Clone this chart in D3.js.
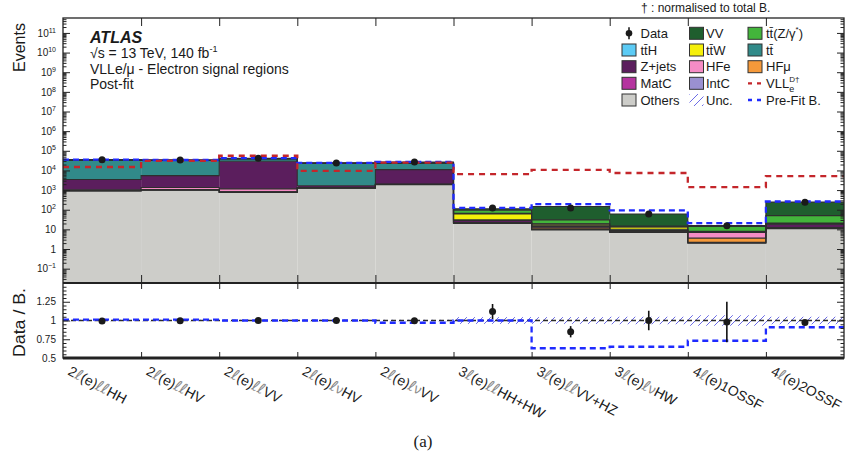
<!DOCTYPE html>
<html><head><meta charset="utf-8">
<script src="https://cdn.jsdelivr.net/npm/d3@7"></script>
<style>
body{margin:0;background:#fff}
text{font-family:"Liberation Sans",Arial,Helvetica,sans-serif;fill:#1a1a1a}
</style>
</head><body>
<svg id="c" width="845" height="463"></svg>
<script>
// ---------------- DATA ----------------
const categories = ["2ℓ(e)ℓℓHH","2ℓ(e)ℓℓHV","2ℓ(e)ℓℓVV","2ℓ(e)ℓνHV","2ℓ(e)ℓνVV",
  "3ℓ(e)ℓℓHH+HW","3ℓ(e)ℓℓVV+HZ","3ℓ(e)ℓνHW","4ℓ(e)1OSSF","4ℓ(e)2OSSF"];
const others = [900,1000,760,1260,1900,20,9.4,7,2,10.7];
const intC   = [20,20,20,20,20,0.5,0.5,0.3,0.1,0.3];
const matC   = [20,20,30,20,20,0.5,0.5,0.3,0.1,0.3];
const hfMu   = [10,10,10,10,10,0.5,1.5,0.5,1.4,0.5];
const hfE    = [80,300,330,40,60,1,1.5,0.5,3.4,0.5];
const zjets  = [2400,4100,28000,300,9000,6,1,0.5,0.3,6];
const ttbar  = [31000,27500,10000,21500,13000,2,1,1,0.2,0.7];
const ttW    = [60,50,40,100,100,30,3,3,0.2,1];
const ttH    = [40,30,20,50,50,5,1,0.5,0.3,1];
const ttZ    = [150,150,200,200,200,28,11,1,6,29];
const vv     = [300,400,2000,500,2000,17,115,46,1.5,195];
const data   = [35000,34000,41500,24000,26500,123,123,60,15.2,239];
const preFit = [35500,34000,42000,24500,27300,123,195,92,21,262];
const vll    = [15000,31000,56000,9600,25000,6500,10800,7400,1400,5100];
const dataRatio    = [0.995,0.998,1.0,1.0,0.998,1.12,0.85,1.0,0.98,0.975];
const dataRatioErr = [0.006,0.006,0.005,0.007,0.007,0.10,0.075,0.13,0.27,0.03];
const preFitRatio  = [1.013,1.013,1.0,1.0,0.97,1.0,0.63,0.65,0.73,0.91];
const uncRel       = [0.01,0.01,0.01,0.01,0.01,0.045,0.045,0.05,0.07,0.05];
const mainTicks  = [1e-1,1,10,1e2,1e3,1e4,1e5,1e6,1e7,1e8,1e9,1e10,1e11];
const ratioTicks = [0.5,0.75,1,1.25,1.5];

// ---------------- LAYOUT ----------------
const L=63, R=844, T=18, MB=283, RB=358;
const svg = d3.select("#c");
const x  = d3.scaleBand().domain(categories).range([L,R]).paddingInner(0).paddingOuter(0);
const xe = d3.scaleLinear().domain([0,categories.length]).range([L,R]);
const yM = d3.scaleLog().domain([Math.pow(10,-1.73), Math.pow(10,11.76)]).range([MB,T]);
const yR = d3.scaleLinear().domain([0.5,1.5]).range([RB,MB]);
const bw = x.bandwidth();
const n = categories.length;

const defs = svg.append("defs");
const pat = defs.append("pattern").attr("id","hatch").attr("patternUnits","userSpaceOnUse")
  .attr("width",8).attr("height",8);
pat.append("path").attr("d","M-1,9L9,-1").attr("stroke","#6c6ce6").attr("stroke-width",1);
defs.append("clipPath").attr("id","clipM").append("rect").attr("x",L).attr("y",T).attr("width",R-L).attr("height",MB-T);
defs.append("clipPath").attr("id","clipR").append("rect").attr("x",L).attr("y",MB).attr("width",R-L).attr("height",RB-MB);

const comps = [
 {v:others,c:"#cdcdc9"},{v:intC,c:"#9a90d0"},{v:matC,c:"#b5349f"},{v:hfMu,c:"#f5993a"},
 {v:hfE,c:"#f58cc5"},{v:zjets,c:"#5b1e5d"},{v:ttbar,c:"#318a89"},{v:ttW,c:"#f5f00a"},
 {v:ttH,c:"#5ccbf5"},{v:ttZ,c:"#43b53b"},{v:vv,c:"#1f5e2e"}
];
const stepLine = d3.line().curve(d3.curveStepAfter);
function stepPts(vals, sc){
  const p = vals.map((v,i)=>[xe(i), sc(v)]);
  p.push([xe(n), sc(vals[n-1])]);
  return p;
}

// ---------------- MAIN PANEL ----------------
const gm = svg.append("g").attr("clip-path","url(#clipM)");
const cums = [];
let running = new Array(n).fill(0);
comps.forEach((cp,j)=>{
  const lo = running.slice();
  const hi = running.map((r,i)=>r+cp.v[i]);
  cums.push(hi);
  categories.forEach((cat,i)=>{
    const y0 = j===0 ? MB : yM(lo[i]);
    const y1 = yM(hi[i]);
    gm.append("rect").attr("x",x(cat)).attr("width",bw).attr("y",y1).attr("height",Math.max(0,y0-y1))
      .attr("fill",cp.c);
  });
  running = hi;
});
cums.forEach(cv=>{
  gm.append("path").attr("d",stepLine(stepPts(cv,yM))).attr("fill","none")
    .attr("stroke","#2e2e2e").attr("stroke-width",1.1);
});
gm.append("path").attr("d",stepLine(stepPts(preFit,yM))).attr("fill","none")
  .attr("stroke","#1f2bff").attr("stroke-width",2.3).attr("stroke-dasharray","6,4");
gm.append("path").attr("d",stepLine(stepPts(vll,yM))).attr("fill","none")
  .attr("stroke","#c4262b").attr("stroke-width",2.3).attr("stroke-dasharray","6,5");
categories.forEach((cat,i)=>{
  const cx = x(cat)+bw/2;
  const e = data[i]*dataRatioErr[i]/dataRatio[i];
  gm.append("line").attr("x1",cx).attr("x2",cx).attr("y1",yM(data[i]+e)).attr("y2",yM(Math.max(data[i]-e,1e-2)))
    .attr("stroke","#111").attr("stroke-width",1.5);
  gm.append("circle").attr("cx",cx).attr("cy",yM(data[i])).attr("r",3.5).attr("fill","#1a1a1a");
});

// ---------------- RATIO PANEL ----------------
const gr = svg.append("g").attr("clip-path","url(#clipR)");
categories.forEach((cat,i)=>{
  gr.append("rect").attr("x",x(cat)).attr("width",bw)
    .attr("y",yR(1+uncRel[i])).attr("height",yR(1-uncRel[i])-yR(1+uncRel[i]))
    .attr("fill","url(#hatch)");
});
gr.append("line").attr("x1",L).attr("x2",R).attr("y1",yR(1)).attr("y2",yR(1))
  .attr("stroke","#2a2a2a").attr("stroke-width",1.3).attr("stroke-dasharray","5,3");
gr.append("path").attr("d",stepLine(stepPts(preFitRatio,yR))).attr("fill","none")
  .attr("stroke","#1f2bff").attr("stroke-width",2.3).attr("stroke-dasharray","6,4");
categories.forEach((cat,i)=>{
  const cx = x(cat)+bw/2;
  gr.append("line").attr("x1",cx).attr("x2",cx)
    .attr("y1",yR(dataRatio[i]+dataRatioErr[i])).attr("y2",yR(dataRatio[i]-dataRatioErr[i]))
    .attr("stroke","#111").attr("stroke-width",1.6);
  gr.append("circle").attr("cx",cx).attr("cy",yR(dataRatio[i])).attr("r",3.5).attr("fill","#1a1a1a");
});

// ---------------- AXES ----------------
function clean(sel){ sel.select(".domain").remove(); sel.selectAll("line").attr("stroke","#222"); }
const minorM = [];
for(let k=-2;k<=11;k++) for(let m=2;m<=9;m++){ const v=m*Math.pow(10,k); if(v>yM.domain()[0]&&v<yM.domain()[1]) minorM.push(v); }
const axL = svg.append("g").attr("transform",`translate(${L},0)`)
  .call(d3.axisLeft(yM).tickValues(mainTicks).tickSizeInner(-7).tickSizeOuter(0).tickPadding(7).tickFormat(()=>""));
clean(axL);
axL.selectAll(".tick text").each(function(d){
  const t=d3.select(this).attr("font-size",10).attr("fill","#222").style("font-family","Liberation Sans, Arial, sans-serif");
  const k=Math.round(Math.log10(d));
  if(k===0) t.text("1"); else if(k===1) t.text("10");
  else { t.text("10"); t.append("tspan").attr("font-size",7).attr("dy",-4).text(k<0?"\u2212"+(-k):k); }
});
svg.append("g").attr("transform",`translate(${L},0)`)
  .call(d3.axisLeft(yM).tickValues(minorM).tickSizeInner(-3.5).tickSizeOuter(0).tickFormat(()=>"")).call(clean);
svg.append("g").attr("transform",`translate(${R},0)`)
  .call(d3.axisRight(yM).tickValues(mainTicks).tickSizeInner(-7).tickSizeOuter(0).tickFormat(()=>"")).call(clean);
svg.append("g").attr("transform",`translate(${R},0)`)
  .call(d3.axisRight(yM).tickValues(minorM).tickSizeInner(-3.5).tickSizeOuter(0).tickFormat(()=>"")).call(clean);
const edges = d3.range(1,n);
svg.append("g").attr("transform",`translate(0,${T})`)
  .call(d3.axisTop(xe).tickValues(edges).tickSizeInner(-8).tickSizeOuter(0).tickFormat(()=>"")).call(clean);
svg.append("g").attr("transform",`translate(0,${MB})`)
  .call(d3.axisBottom(xe).tickValues(edges).tickSizeInner(-8).tickSizeOuter(0).tickFormat(()=>"")).call(clean);
const minorR = d3.range(0.55,1.5,0.05).filter(v=>Math.abs((v*4)-Math.round(v*4))>1e-6);
const axRL = svg.append("g").attr("transform",`translate(${L},0)`)
  .call(d3.axisLeft(yR).tickValues(ratioTicks).tickSizeInner(-7).tickSizeOuter(0).tickPadding(7)
    .tickFormat(d=>d===1.5?"":d3.format("")(d)));
clean(axRL);
axRL.selectAll(".tick text").attr("font-size",10).attr("fill","#222").style("font-family","Liberation Sans, Arial, sans-serif");
svg.append("g").attr("transform",`translate(${L},0)`)
  .call(d3.axisLeft(yR).tickValues(minorR).tickSizeInner(-3.5).tickSizeOuter(0).tickFormat(()=>"")).call(clean);
svg.append("g").attr("transform",`translate(${R},0)`)
  .call(d3.axisRight(yR).tickValues(ratioTicks).tickSizeInner(-7).tickSizeOuter(0).tickFormat(()=>"")).call(clean);
svg.append("g").attr("transform",`translate(${R},0)`)
  .call(d3.axisRight(yR).tickValues(minorR).tickSizeInner(-3.5).tickSizeOuter(0).tickFormat(()=>"")).call(clean);
svg.append("g").attr("transform",`translate(0,${MB})`)
  .call(d3.axisTop(xe).tickValues(edges).tickSizeInner(-6).tickSizeOuter(0).tickFormat(()=>"")).call(clean);
svg.append("g").attr("transform",`translate(0,${RB})`)
  .call(d3.axisBottom(xe).tickValues(edges).tickSizeInner(-6).tickSizeOuter(0).tickFormat(()=>"")).call(clean);

// frames
svg.append("rect").attr("x",L).attr("y",T).attr("width",R-L).attr("height",RB-T)
  .attr("fill","none").attr("stroke","#222").attr("stroke-width",1.3);
svg.append("line").attr("x1",L).attr("x2",R).attr("y1",MB).attr("y2",MB).attr("stroke","#222").attr("stroke-width",2.2);
svg.append("line").attr("x1",L).attr("x2",R).attr("y1",RB).attr("y2",RB).attr("stroke","#222").attr("stroke-width",2.8);

// x labels
categories.forEach((cat,i)=>{
  const t = svg.append("text").attr("transform",`translate(${x(cat)+9},365) rotate(28)`)
    .attr("dy","0.75em").attr("font-size",14);
  for(const ch of cat){
    const sp = t.append("tspan").text(ch);
    if(ch==="ℓ"){ sp.attr("fill","#8a8a8a").style("font-family","DejaVu Sans, sans-serif").attr("font-size",15); }
    else if(ch==="ν"){ sp.attr("fill","#8a8a8a"); }
    else sp.attr("fill","#1a1a1a");
  }
});

// axis titles
svg.append("text").attr("transform","translate(25,72) rotate(-90)").attr("text-anchor","start")
  .attr("font-size",16).text("Events");
svg.append("text").attr("transform","translate(25,357) rotate(-90)").attr("text-anchor","start")
  .attr("font-size",16).attr("textLength",69).attr("lengthAdjust","spacingAndGlyphs").text("Data / B.");

// ATLAS labels
svg.append("text").attr("x",90).attr("y",43).attr("font-size",16).attr("font-weight","bold").attr("font-style","italic").text("ATLAS");
const t2 = svg.append("text").attr("x",90).attr("y",58).attr("font-size",14);
t2.append("tspan").text("\u221As = 13 TeV, 140 fb");
t2.append("tspan").attr("font-size",9).attr("dy",-6).text("-1");
svg.append("text").attr("x",90).attr("y",74).attr("font-size",14).text("VLLe/\u03bc - Electron signal regions");
svg.append("text").attr("x",90).attr("y",89).attr("font-size",14).text("Post-fit");

// legend
svg.append("text").attr("x",641).attr("y",12).attr("font-size",12).text("\u2020 : normalised to total B.");
const rows=[33.3,50,66.7,83.3,100];
const cols=[{bx:622,tx:640.5},{bx:689.5,tx:706},{bx:748,tx:766}];
const legend = [
 [{t:"Data",k:"data"},{t:"tt\u0304H",c:"#5ccbf5"},{t:"Z+jets",c:"#5b1e5d"},{t:"MatC",c:"#b5349f"},{t:"Others",c:"#cdcdc9"}],
 [{t:"VV",c:"#1f5e2e"},{t:"tt\u0304W",c:"#f5f00a"},{t:"HFe",c:"#f58cc5"},{t:"IntC",c:"#9a90d0"},{t:"Unc.",k:"unc"}],
 [{t:"tt\u0304(Z/\u03b3",c:"#43b53b",sup:"*",after:")"},{t:"tt\u0304",c:"#318a89"},{t:"HF\u03bc",c:"#f5993a"},{t:"VLL",k:"vll"},{t:"Pre-Fit B.",k:"pre"}]
];
legend.forEach((col,ci)=>{
  col.forEach((it,ri)=>{
    const cy=rows[ri], bx=cols[ci].bx;
    if(it.k==="data"){
      svg.append("line").attr("x1",bx+7).attr("x2",bx+7).attr("y1",cy-6).attr("y2",cy+6).attr("stroke","#111").attr("stroke-width",1.5);
      svg.append("circle").attr("cx",bx+7).attr("cy",cy).attr("r",3.3).attr("fill","#1a1a1a");
    } else if(it.k==="unc"){
      svg.append("rect").attr("x",bx).attr("y",cy-6).attr("width",14).attr("height",12).attr("fill","url(#hatch)");
    } else if(it.k==="vll"){
      svg.append("line").attr("x1",bx).attr("x2",bx+14).attr("y1",cy).attr("y2",cy).attr("stroke","#c4262b").attr("stroke-width",2.3).attr("stroke-dasharray","4,5");
    } else if(it.k==="pre"){
      svg.append("line").attr("x1",bx).attr("x2",bx+14).attr("y1",cy).attr("y2",cy).attr("stroke","#1f2bff").attr("stroke-width",2.3).attr("stroke-dasharray","4,5");
    } else {
      svg.append("rect").attr("x",bx).attr("y",cy-6).attr("width",14).attr("height",12).attr("fill",it.c).attr("stroke","#333").attr("stroke-width",1);
    }
    const tx = svg.append("text").attr("x",cols[ci].tx).attr("y",cy+4.5).attr("font-size",13);
    tx.append("tspan").text(it.t);
    if(it.sup){ tx.append("tspan").attr("font-size",8).attr("dy",-6).text(it.sup); tx.append("tspan").attr("dy",6).text(it.after); }
    if(it.k==="vll"){
      tx.append("tspan").attr("font-size",9).attr("dy",4).text("e");
      tx.append("tspan").attr("font-size",8).attr("dy",-10).attr("dx",-5).text("D\u2020");
    }
  });
});

// caption
svg.append("text").attr("x",423).attr("y",447).attr("text-anchor","middle").attr("font-size",17)
  .style("font-family","Liberation Serif, Times New Roman, serif").text("(a)");
</script>
</body></html>
